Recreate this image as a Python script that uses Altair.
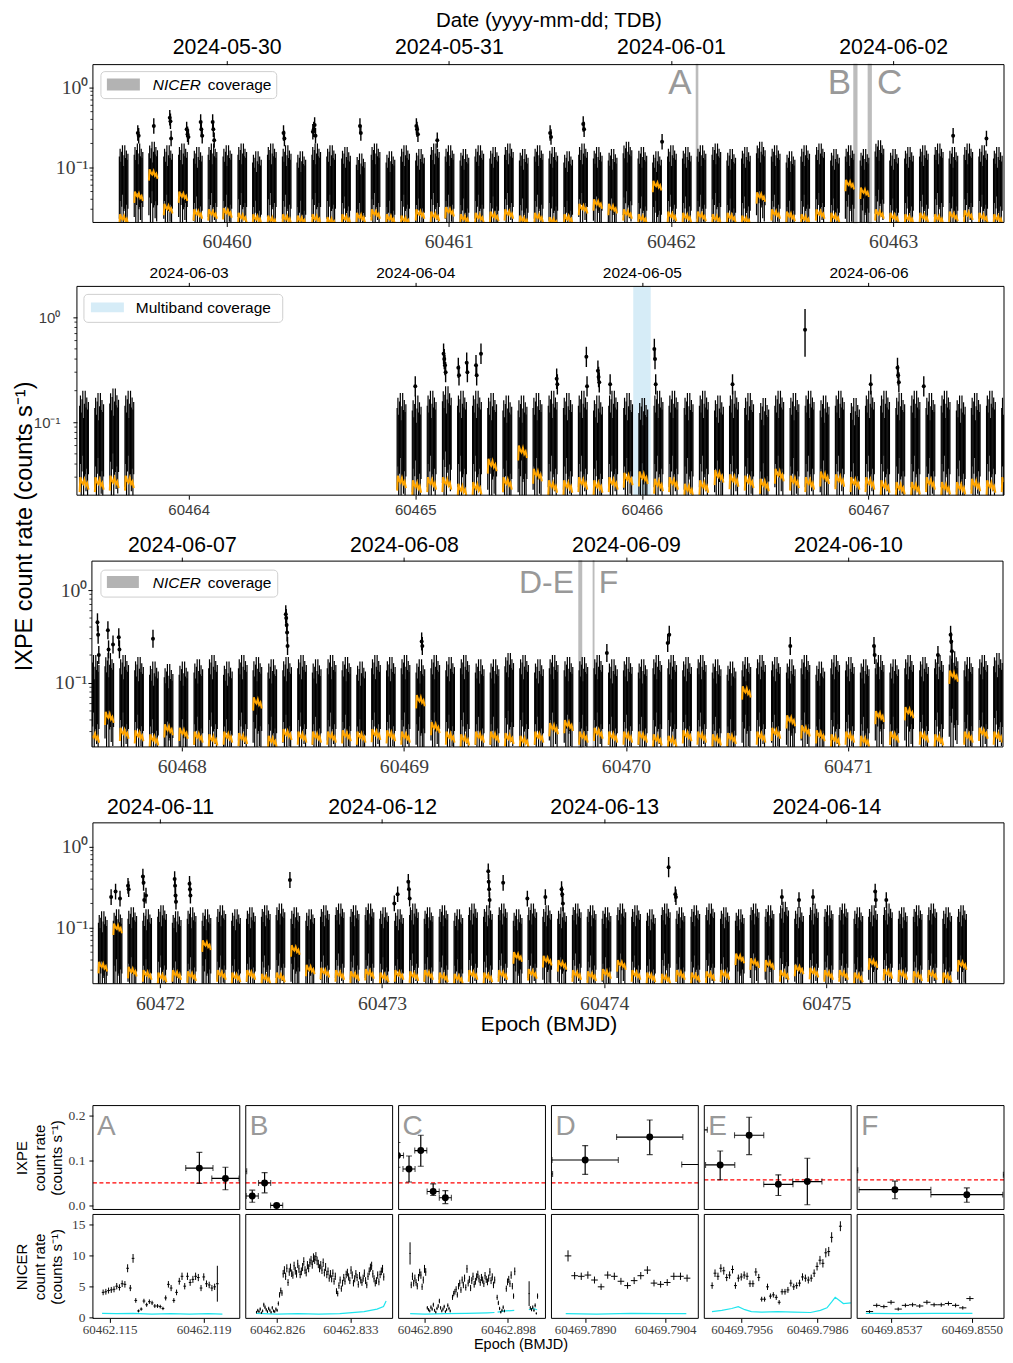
import altair as alt
import pandas as pd

alt.data_transformers.disable_max_rows()

SANS = "Liberation Sans"
SERIF = "Liberation Serif"
TICK_GREY = "#3c3c3c"
LETTER_GREY = "#999999"
ORANGE = "#ffa500"
CYAN = "#1fe5ee"
BAND_GREY = "#bcbcbc"
LEGEND_GREY = "#b3b3b3"
BLUE_BAND = "#d6ecf7"

# ---------------------------------------------------------------- long panels
Y_TICK_VALUES = [0.1, 1.0]
Y_TICK_LABELS = ["10\u207b\u00b9", "10\u2070"]
Y_MINOR = [0.03, 0.04, 0.05, 0.06, 0.07, 0.08, 0.09, 0.2, 0.3, 0.4, 0.5, 0.6, 0.7, 0.8, 0.9]
BIG_YTITLE = "IXPE count rate (counts s\u207b\u00b9)"
DATE_TITLE = "Date (yyyy-mm-dd; TDB)"
EPOCH_TITLE = "Epoch (BMJD)"
LEGEND_NICER = ["NICER", "coverage"]
LEGEND_MULTI = "Multiband coverage"

P1_XTICKS = [60460, 60461, 60462, 60463]
P1_DATES = ["2024-05-30", "2024-05-31", "2024-06-01", "2024-06-02"]
P2_XTICKS = [60464, 60465, 60466, 60467]
P2_DATES = ["2024-06-03", "2024-06-04", "2024-06-05", "2024-06-06"]
P3_XTICKS = [60468, 60469, 60470, 60471]
P3_DATES = ["2024-06-07", "2024-06-08", "2024-06-09", "2024-06-10"]
P4_XTICKS = [60472, 60473, 60474, 60475]
P4_DATES = ["2024-06-11", "2024-06-12", "2024-06-13", "2024-06-14"]

# IXPE orbit-segment starts (BMJD), read from the clusters
P1_ORBITS = [60459.517, 60459.584, 60459.650, 60459.717, 60459.784, 60459.851, 60459.917, 60459.984,
             60460.051, 60460.117, 60460.184, 60460.251, 60460.317, 60460.384, 60460.451, 60460.518,
             60460.584, 60460.651, 60460.718, 60460.784, 60460.851, 60460.918, 60460.984, 60461.051,
             60461.118, 60461.185, 60461.251, 60461.318, 60461.385, 60461.451, 60461.518, 60461.585,
             60461.651, 60461.718, 60461.785, 60461.852, 60461.918, 60461.985, 60462.052, 60462.118,
             60462.185, 60462.252, 60462.318, 60462.385, 60462.452, 60462.519, 60462.585, 60462.652,
             60462.719, 60462.785, 60462.852, 60462.919, 60462.985, 60463.052, 60463.119, 60463.186,
             60463.252, 60463.319, 60463.386, 60463.452]
P1_PEAKS = [0.19, 0.2, 0.21, 0.19, 0.2, 0.18, 0.2, 0.19, 0.2, 0.16, 0.2, 0.19, 0.16, 0.2, 0.19, 0.18,
            0.15, 0.2, 0.16, 0.19, 0.17, 0.2, 0.19, 0.17, 0.19, 0.18, 0.2, 0.17, 0.19, 0.18, 0.16, 0.2,
            0.18, 0.17, 0.21, 0.18, 0.16, 0.19, 0.18, 0.19, 0.2, 0.17, 0.18, 0.21, 0.19, 0.16, 0.19, 0.2,
            0.17, 0.19, 0.17, 0.22, 0.17, 0.18, 0.19, 0.2, 0.18, 0.2, 0.19, 0.18]
P1_BKG = [0.026, 0.05, 0.095, 0.035, 0.05, 0.03, 0.03, 0.031, 0.027, 0.026, 0.025, 0.026, 0.025, 0.026,
          0.024, 0.026, 0.027, 0.03, 0.026, 0.025, 0.03, 0.028, 0.032, 0.026, 0.027, 0.028, 0.03, 0.025,
          0.027, 0.024, 0.026, 0.035, 0.04, 0.035, 0.03, 0.026, 0.068, 0.028, 0.027, 0.028, 0.026, 0.027,
          0.025, 0.049, 0.03, 0.028, 0.026, 0.03, 0.027, 0.07, 0.056, 0.03, 0.027, 0.026, 0.027, 0.026,
          0.028, 0.029, 0.027, 0.026]
P1_FLARE_T = [60459.600, 60459.604, 60459.672, 60459.744, 60459.747, 60459.750, 60459.820, 60459.824,
              60459.828, 60459.883, 60459.886, 60459.890, 60459.937, 60459.940, 60459.944, 60460.256,
              60460.260, 60460.388, 60460.392, 60460.396, 60460.400, 60460.600, 60460.604, 60460.854,
              60460.857, 60460.861, 60460.948, 60461.456, 60461.460, 60461.605, 60461.609, 60461.960,
              60463.270, 60463.420]
P1_FLARE_R = [0.27, 0.25, 0.33, 0.42, 0.38, 0.23, 0.30, 0.26, 0.24, 0.37, 0.30, 0.25, 0.37, 0.30, 0.22,
              0.27, 0.23, 0.28, 0.30, 0.34, 0.25, 0.33, 0.27, 0.33, 0.30, 0.26, 0.22, 0.27, 0.24, 0.35,
              0.30, 0.21, 0.25, 0.23]

P2_ORBITS = [60463.519, 60463.586, 60463.652, 60463.719,
             60464.920, 60464.987, 60465.053, 60465.120, 60465.187, 60465.253, 60465.320, 60465.387,
             60465.454, 60465.520, 60465.587, 60465.654, 60465.720, 60465.787, 60465.854, 60465.920,
             60465.987, 60466.054, 60466.120, 60466.187, 60466.254, 60466.321, 60466.387, 60466.454,
             60466.521, 60466.587, 60466.654, 60466.721, 60466.787, 60466.854, 60466.921, 60466.987,
             60467.054, 60467.121, 60467.188, 60467.254, 60467.321, 60467.388, 60467.454, 60467.521,
             60467.588]
P2_PEAKS = [0.2, 0.19, 0.21, 0.2, 0.19, 0.18, 0.2, 0.22, 0.2, 0.2, 0.19, 0.18, 0.18, 0.19, 0.2, 0.19,
            0.2, 0.18, 0.2, 0.19, 0.17, 0.2, 0.2, 0.19, 0.2, 0.18, 0.2, 0.19, 0.17, 0.2, 0.19, 0.2,
            0.18, 0.2, 0.17, 0.2, 0.2, 0.19, 0.2, 0.19, 0.2, 0.18, 0.19, 0.2, 0.19]
P2_BKG = [0.03, 0.03, 0.031, 0.031, 0.031, 0.028, 0.03, 0.03, 0.026, 0.027, 0.045, 0.03, 0.06, 0.036,
          0.028, 0.028, 0.03, 0.028, 0.03, 0.033, 0.034, 0.029, 0.03, 0.026, 0.028, 0.035, 0.032, 0.031,
          0.029, 0.036, 0.031, 0.03, 0.034, 0.032, 0.03, 0.03, 0.028, 0.027, 0.027, 0.03, 0.027, 0.027,
          0.029, 0.028, 0.03]
P2_FLARE_T = [60465.000, 60465.125, 60465.128, 60465.131, 60465.134, 60465.190, 60465.193, 60465.227,
              60465.230, 60465.268, 60465.271, 60465.290, 60465.624, 60465.627, 60465.755, 60465.758,
              60465.806, 60465.809, 60465.812, 60465.860, 60466.055, 60466.058, 60466.061, 60466.400,
              60467.010, 60467.128, 60467.131, 60467.134, 60467.244]
P2_FLARE_R = [0.22, 0.45, 0.40, 0.35, 0.30, 0.33, 0.28, 0.37, 0.30, 0.35, 0.28, 0.45, 0.26, 0.23, 0.42,
              0.22, 0.31, 0.27, 0.24, 0.23, 0.50, 0.40, 0.23, 0.23, 0.23, 0.33, 0.28, 0.24, 0.22]
P2_ISO = [(60466.720, 0.76, 0.42, 1.20)]
P2_MULTIBAND = [(60465.962, 60466.039)]

P3_ORBITS = [60467.588, 60467.654, 60467.721, 60467.788, 60467.855, 60467.921, 60467.988, 60468.055,
             60468.121, 60468.188, 60468.255, 60468.321, 60468.388, 60468.455, 60468.522, 60468.588,
             60468.655, 60468.722, 60468.788, 60468.855, 60468.922, 60468.988, 60469.055, 60469.122,
             60469.189, 60469.255, 60469.322, 60469.389, 60469.455, 60469.522, 60469.589, 60469.655,
             60469.722, 60469.789, 60469.856, 60469.922, 60469.989, 60470.056, 60470.122, 60470.189,
             60470.256, 60470.322, 60470.389, 60470.456, 60470.523, 60470.589, 60470.656, 60470.723,
             60470.789, 60470.856, 60470.923, 60470.989, 60471.056, 60471.123, 60471.189, 60471.256,
             60471.323, 60471.390, 60471.456, 60471.523, 60471.590, 60471.656]
P3_PEAKS = [0.2, 0.21, 0.2, 0.19, 0.17, 0.16, 0.17, 0.18, 0.2, 0.17, 0.2, 0.19, 0.18, 0.19, 0.2, 0.18,
            0.2, 0.19, 0.17, 0.2, 0.19, 0.2, 0.18, 0.2, 0.19, 0.2, 0.18, 0.18, 0.21, 0.2, 0.18, 0.2,
            0.19, 0.19, 0.2, 0.18, 0.19, 0.18, 0.2, 0.2, 0.19, 0.2, 0.18, 0.17, 0.19, 0.2, 0.19, 0.18,
            0.2, 0.17, 0.2, 0.19, 0.18, 0.2, 0.18, 0.2, 0.19, 0.2, 0.22, 0.19, 0.2, 0.21]
P3_BKG = [0.03, 0.049, 0.033, 0.031, 0.028, 0.036, 0.033, 0.03, 0.028, 0.03, 0.029, 0.07, 0.027, 0.032,
          0.03, 0.03, 0.03, 0.031, 0.03, 0.032, 0.031, 0.03, 0.074, 0.038, 0.03, 0.028, 0.03, 0.03,
          0.029, 0.027, 0.03, 0.037, 0.04, 0.03, 0.033, 0.03, 0.03, 0.03, 0.028, 0.027, 0.031, 0.03,
          0.028, 0.029, 0.092, 0.03, 0.033, 0.045, 0.035, 0.031, 0.028, 0.03, 0.027, 0.05, 0.03, 0.055,
          0.03, 0.028, 0.136, 0.03, 0.033, 0.03]
P3_FLARE_T = [60467.620, 60467.623, 60467.626, 60467.667, 60467.670, 60467.690, 60467.716, 60467.719,
              60467.870, 60468.468, 60468.470, 60468.472, 60468.474, 60468.476, 60469.080, 60469.083,
              60469.914, 60470.188, 60470.195, 60470.740, 60471.117, 60471.120, 60471.405, 60471.462,
              60471.465, 60471.468]
P3_FLARE_R = [0.45, 0.33, 0.20, 0.37, 0.23, 0.26, 0.31, 0.23, 0.30, 0.55, 0.50, 0.42, 0.35, 0.25, 0.28,
              0.25, 0.21, 0.27, 0.33, 0.25, 0.25, 0.20, 0.20, 0.33, 0.28, 0.22]

P4_ORBITS = [60471.723, 60471.790, 60471.856, 60471.923, 60471.990, 60472.056, 60472.123, 60472.190,
             60472.257, 60472.323, 60472.390, 60472.457, 60472.523, 60472.590, 60472.657, 60472.723,
             60472.790, 60472.857, 60472.924, 60472.990, 60473.057, 60473.124, 60473.190, 60473.257,
             60473.324, 60473.390, 60473.457, 60473.524, 60473.591, 60473.657, 60473.724, 60473.791,
             60473.857, 60473.924, 60473.991, 60474.058, 60474.124, 60474.191, 60474.258, 60474.324,
             60474.391, 60474.458, 60474.524, 60474.591, 60474.658, 60474.725, 60474.791, 60474.858,
             60474.925, 60474.991, 60475.058, 60475.125, 60475.191, 60475.258, 60475.325, 60475.392,
             60475.458, 60475.525, 60475.592]
P4_PEAKS = [0.16, 0.17, 0.18, 0.17, 0.19, 0.16, 0.18, 0.17, 0.19, 0.17, 0.18, 0.19, 0.2, 0.18, 0.17,
            0.19, 0.2, 0.19, 0.2, 0.18, 0.17, 0.2, 0.18, 0.19, 0.17, 0.2, 0.19, 0.2, 0.17, 0.2, 0.19,
            0.18, 0.2, 0.19, 0.18, 0.2, 0.19, 0.17, 0.2, 0.18, 0.19, 0.2, 0.18, 0.17, 0.2, 0.19, 0.21,
            0.18, 0.2, 0.19, 0.2, 0.18, 0.19, 0.2, 0.18, 0.19, 0.2, 0.18, 0.19]
P4_BKG = [0.038, 0.113, 0.033, 0.03, 0.028, 0.03, 0.029, 0.07, 0.03, 0.028, 0.03, 0.027, 0.028, 0.061,
          0.035, 0.032, 0.03, 0.029, 0.031, 0.028, 0.03, 0.029, 0.03, 0.028, 0.027, 0.03, 0.028, 0.03,
          0.05, 0.031, 0.045, 0.04, 0.03, 0.029, 0.031, 0.04, 0.03, 0.028, 0.027, 0.03, 0.028, 0.029,
          0.03, 0.048, 0.042, 0.04, 0.03, 0.035, 0.032, 0.03, 0.03, 0.028, 0.042, 0.031, 0.03, 0.029,
          0.03, 0.028, 0.04]
P4_FLARE_T = [60471.780, 60471.800, 60471.820, 60471.856, 60471.859, 60471.923, 60471.926, 60471.929,
              60471.937, 60472.066, 60472.068, 60472.070, 60472.072, 60472.133, 60472.135, 60472.137,
              60473.055, 60473.070, 60473.118, 60473.121, 60473.124, 60473.478, 60473.480, 60473.482,
              60473.484, 60473.545, 60473.654, 60473.735, 60473.808, 60473.811, 60473.814, 60474.320,
              60474.323, 60474.800, 60474.877, 60474.940, 60475.220, 60475.223, 60475.270]
P4_FLARE_R = [0.24, 0.28, 0.23, 0.33, 0.30, 0.43, 0.36, 0.22, 0.25, 0.40, 0.33, 0.25, 0.21, 0.35, 0.30,
              0.25, 0.20, 0.26, 0.37, 0.30, 0.23, 0.50, 0.37, 0.30, 0.22, 0.36, 0.23, 0.24, 0.30, 0.26,
              0.20, 0.26, 0.24, 0.24, 0.22, 0.24, 0.28, 0.22, 0.22]
P4_ISO = [(60472.585, 0.39, 0.31, 0.49), (60474.290, 0.56, 0.42, 0.75)]

# shape of the binned IXPE rate inside one orbit segment (day offsets, fraction of orbit peak)
BIN_OFFSETS = [0.0, 0.0035, 0.007, 0.0105, 0.014, 0.0175, 0.021, 0.0245, 0.028, 0.0315, 0.035, 0.0385]
BIN_CENTER = [0.42, 0.55, 0.35, 0.5, 0.62, 0.3, 0.45, 0.58, 0.4, 0.52, 0.38, 0.47]
BIN_ERR = [0.3, 0.35, 0.27, 0.33, 0.38, 0.25, 0.3, 0.42, 0.29, 0.34, 0.28, 0.31]
BKG_OFFSETS = [0.0, 0.003, 0.009, 0.015, 0.021, 0.027, 0.033, 0.039]
BKG_SHAPE = [0.72, 1.0, 0.9, 0.86, 0.95, 0.83, 0.88, 0.76]
FLARE_LO, FLARE_HI = 0.8, 1.25

# NICER windows drawn on panels 1 and 3
P1_NICER = [(60462.1147, 60462.1197), (60462.8240, 60462.8362), (60462.8886, 60462.9008)]
P3_NICER = [(60469.7887, 60469.7907), (60469.7944, 60469.7998), (60469.8533, 60469.8550)]
P1_LETTERS = [("A", 60462.1147, "right", -5), ("B", 60462.8240, "right", -3), ("C", 60462.9008, "left", 6)]
P3_LETTERS = [("D-E", 60469.7887, "right", -5), ("F", 60469.8550, "left", 5)]

# ---------------------------------------------------------------- zoom panels A-F
NICER_BIN = 10.0 / 86400.0
IXPE_HALF = 0.00058
IXPE_YDOM = [-0.009, 0.222]
NICER_YDOM = [-0.2, 16.6]
IXPE_YTITLE = ["IXPE", "count rate", "(counts s\u207b\u00b9)"]
NICER_YTITLE = ["NICER", "count rate", "(counts s\u207b\u00b9)"]

A_IX = [(60462.11882, 0.083, 0.049, 0.118), (60462.11993, 0.060, 0.035, 0.085)]
B_IX = [(60462.82252, 0.076, 0.050, 0.100), (60462.82363, 0.021, 0.007, 0.034),
        (60462.82481, 0.050, 0.028, 0.073), (60462.82596, 0.000, -0.003, 0.003)]
C_IX = [(60462.88738, 0.111, 0.085, 0.140), (60462.88849, 0.081, 0.052, 0.110),
        (60462.88962, 0.122, 0.087, 0.156), (60462.89081, 0.031, 0.022, 0.048),
        (60462.89198, 0.017, 0.004, 0.033)]
D_IX = [(60469.78785, 0.070, 0.045, 0.095), (60469.78900, 0.101, 0.069, 0.133),
        (60469.79013, 0.152, 0.113, 0.190), (60469.79127, 0.091, 0.060, 0.120)]
E_IX = [(60469.79366, 0.168, 0.130, 0.210), (60469.79475, 0.090, 0.057, 0.121),
        (60469.79590, 0.156, 0.113, 0.196), (60469.79706, 0.047, 0.022, 0.068),
        (60469.79821, 0.053, 0.0015, 0.105)]
F_IX = [(60469.85258, 0.078, 0.050, 0.100), (60469.85376, 0.035, 0.015, 0.054),
        (60469.85492, 0.024, 0.007, 0.039), (60469.85609, 0.068, 0.045, 0.090)]
RED_LEVEL = [0.05, 0.05, 0.05, 0.05, 0.057, 0.057]

A_NICER = [(60462.114725, [4.0, 4.1, 4.3, 4.4, 4.5, 5.0, 4.8, 5.4, 5.3, 7.9, 4.7, 9.5, 2.7, 1.0, 1.3, 2.6,
                          2.0, 2.5, 2.3, 1.8, 1.8, 1.7, 1.4, 3.1, 5.3, 4.7, 2.7, 4.0, 5.8, 6.6, 5.0, 6.6,
                          5.6, 6.1, 6.6, 6.4, 4.7, 6.5, 5.4, 5.2, 4.7, 4.9, 5.4])]
B_NICER = [(60462.82404, [0.8, 1.1, 0.9, 1.3, 0.7, 1.0, 2.0, 1.6, 1.2, 0.9, 1.4, 1.1, 0.8, 1.5, 1.0, 0.9,
                         1.3, 1.1, 2.2, 3.6, 4.3, 3.9, 7.0, 7.6, 6.6, 7.9, 5.6, 7.3, 8.0, 7.1, 6.8, 8.3,
                         7.5, 7.0, 8.6, 7.8, 6.9, 7.4, 8.1, 9.0, 7.6, 7.2, 8.4, 7.9, 8.8, 9.2, 8.5, 9.6,
                         9.3, 9.8, 9.1, 8.6, 7.9, 8.4, 7.6, 8.8, 7.2, 8.1, 6.9, 7.4, 6.3, 7.0, 6.2, 7.1,
                         5.8, 6.6, 4.2, 3.8, 5.1, 6.0, 4.6, 5.5, 6.4, 5.8, 6.9, 7.2, 6.5, 5.9, 7.6, 6.8,
                         5.5, 6.2, 7.0, 6.4, 5.3, 6.7, 6.0, 5.6, 6.3, 7.1, 5.9, 5.2, 6.6, 7.4, 8.0, 8.3,
                         7.0, 6.2, 5.5, 5.9, 6.8, 5.7, 6.9, 7.4, 7.8, 6.5])]
C_NICER = [(60462.88859, [10.3, 5.2, 6.6, 5.5, 6.3, 5.6, 5.0, 6.4, 7.2, 6.8, 4.9, 6.0, 7.8, 7.3]),
           (60462.89025, [1.5, 1.2, 1.0, 1.6, 1.3, 2.0, 1.1, 0.8, 1.4, 1.8, 2.6, 1.5, 1.0, 1.3, 1.7, 0.9,
                          1.2, 1.9, 1.4, 1.0]),
           (60462.89267, [3.2, 3.8, 4.1, 4.5, 3.6, 5.0, 5.5, 4.4, 6.0, 5.2, 6.3, 4.8, 7.8, 5.5, 6.1, 4.7,
                          5.9, 6.6, 5.3, 5.8, 6.5, 6.9, 6.2, 5.6, 6.4, 6.0, 5.4, 6.7, 6.1, 5.7, 6.3, 7.3,
                          5.9, 6.5, 5.2, 6.0]),
           (60462.89696, [3.2, 2.3, 1.4, 0.8, 1.1, 1.6, 1.0]),
           (60462.89784, [4.6, 5.7, 6.1, 5.4, 6.8, 5.0, 3.4, 7.4]),
           (60462.90003, [3.8, 1.5, 1.2, 1.6, 1.1, 1.9, 0.6, 3.4])]
D_NICER = [(60469.78870, [9.9, 6.7, 6.6, 6.8, 6.0, 4.9, 6.8, 6.6, 5.8, 5.1, 5.9, 6.7, 7.6, 5.5, 5.3, 5.6,
                         6.6, 6.6, 6.3])]
E_NICER = [(60469.79443, [5.1, 7.1, 6.6, 7.9, 7.5, 6.4, 6.8, 7.7, 5.1, 6.3, 6.5, 6.8, 6.6, 5.4, 5.4, 7.3,
                         6.4, 2.9, 2.9, 4.9, 3.4, 3.6, 3.2, 2.4, 4.1, 4.1, 4.4, 5.5, 4.9, 5.1, 5.5, 6.5,
                         6.3, 6.0, 6.3, 7.1, 8.2, 9.2, 8.7, 10.4, 10.6, 12.9, None, None, 14.7])]
F_NICER = [(60469.85335, [0.9, 1.9, 1.7, 2.4, 1.3, 1.9, 2.0, 1.8, 2.4, 2.0, 2.0, 2.2, 1.9, 1.5, 3.0])]
# (segment index, bin index) -> larger error bar
NICER_BIG_ERR = {"A": {(0, 42): 2.9}, "C": {(0, 0): 1.8, (5, 0): 2.0}, "D": {(0, 0): 0.9},
                 "E": {(0, 44): 0.8}}

A_CYAN = [([60462.11468, 60462.11530, 60462.11600, 60462.11680, 60462.11760, 60462.11840, 60462.11920,
            60462.11980], [0.6, 0.55, 0.6, 0.5, 0.55, 0.5, 0.55, 0.5])]
B_CYAN = [([60462.82400, 60462.82600, 60462.82800, 60462.83000, 60462.83200, 60462.83431, 60462.83555,
            60462.83617, 60462.83642], [0.6, 0.5, 0.55, 0.5, 0.55, 0.9, 1.3, 1.7, 2.6])]
C_CYAN = [([60462.8886, 60462.8900, 60462.8920, 60462.8940, 60462.8960, 60462.8967],
           [0.55, 0.5, 0.55, 0.6, 0.7, 0.75]),
          ([60462.8970, 60462.8978, 60462.8986], [0.8, 1.0, 1.1]),
          ([60462.9000, 60462.9004, 60462.9008], [1.2, 1.4, 1.2])]
D_CYAN = [([60469.78866, 60469.78920, 60469.78980, 60469.79040, 60469.79077], [0.55, 0.5, 0.6, 0.55, 0.55])]
E_CYAN = [([60469.794425, 60469.794816, 60469.795208, 60469.795468, 60469.795729, 60469.795990,
            60469.796381, 60469.797033, 60469.797686, 60469.798338, 60469.798729, 60469.798990,
            60469.799186, 60469.799316, 60469.799446, 60469.799642, 60469.799940],
           [0.9, 1.1, 1.4, 1.7, 1.2, 0.9, 0.8, 0.9, 0.8, 0.75, 1.1, 1.5, 2.5, 3.2, 2.8, 2.2, 2.3])]
F_CYAN = [([60469.85329, 60469.85380, 60469.85440, 60469.85501], [0.6, 0.55, 0.6, 0.6])]

SMALL = [
    dict(key="A", xdom=[60462.11429, 60462.12054], ticks=[60462.115, 60462.119], fmt=".3f",
         ix=A_IX, nicer=A_NICER, cyan=A_CYAN),
    dict(key="B", xdom=[60462.82301, 60462.83704], ticks=[60462.826, 60462.833], fmt=".3f",
         ix=B_IX, nicer=B_NICER, cyan=B_CYAN),
    dict(key="C", xdom=[60462.88749, 60462.90160], ticks=[60462.890, 60462.898], fmt=".3f",
         ix=C_IX, nicer=C_NICER, cyan=C_CYAN),
    dict(key="D", xdom=[60469.78841, 60469.79098], ticks=[60469.7890, 60469.7904], fmt=".4f",
         ix=D_IX, nicer=D_NICER, cyan=D_CYAN),
    dict(key="E", xdom=[60469.79412, 60469.79995], ticks=[60469.7956, 60469.7986], fmt=".4f",
         ix=E_IX, nicer=E_NICER, cyan=E_CYAN),
    dict(key="F", xdom=[60469.85315, 60469.85552], ticks=[60469.8537, 60469.8550], fmt=".4f",
         ix=F_IX, nicer=F_NICER, cyan=F_CYAN),
]

# pixel layout (the whole figure must fit a 1013 px wide page with 8 px margins)
SMALL_W = 147
SMALL_H = 104
SMALL_GAP = 6
LONG_W = 912
P2_W = 928


# ---------------------------------------------------------------- helpers
def one():
    return pd.DataFrame({"k": [0]})


def date_expr(values, labels):
    expr = "''"
    for v, lab in reversed(list(zip(values, labels))):
        expr = f"datum.value == {v} ? '{lab}' : ({expr})"
    return expr


def spacer(w, h):
    return alt.Chart(one()).mark_point(opacity=0, size=1).encode(
        x=alt.value(w / 2.0), y=alt.value(h / 2.0)).properties(width=w, height=h)


def frame(w, h):
    return alt.Chart(one()).mark_rect(filled=False, stroke="black", strokeWidth=1).encode(
        x=alt.value(0), x2=alt.value(w), y=alt.value(0), y2=alt.value(h))


def legend_layers(box, patch, patch_color, texts):
    layers = [
        alt.Chart(one()).mark_rect(fill="white", fillOpacity=0.85, stroke="#cfcfcf", strokeWidth=1,
                                   cornerRadius=4).encode(
            x=alt.value(box[0]), x2=alt.value(box[2]), y=alt.value(box[1]), y2=alt.value(box[3])),
        alt.Chart(one()).mark_rect(fill=patch_color).encode(
            x=alt.value(patch[0]), x2=alt.value(patch[2]), y=alt.value(patch[1]), y2=alt.value(patch[3])),
    ]
    for txt, x, y, style in texts:
        layers.append(alt.Chart(one()).mark_text(
            text=txt, font=SANS, fontSize=15.5, fontStyle=style, align="left", baseline="middle",
            color="black").encode(x=alt.value(x), y=alt.value(y)))
    return layers


def inside(df, col, dom):
    return df[(df[col] >= dom[0]) & (df[col] <= dom[1])]


def long_panel(cfg):
    W, H = cfg["w"], cfg["h"]
    dom = cfg["xdom"]
    xs = alt.Scale(domain=dom, nice=False, zero=False)
    ys = alt.Scale(type="log", domain=cfg["ydom"], nice=False)
    tick_font = SANS if cfg["sans"] else SERIF
    yax = alt.Axis(
        values=Y_TICK_VALUES,
        labelExpr=f"datum.value >= 1 ? '{Y_TICK_LABELS[1]}' : '{Y_TICK_LABELS[0]}'",
        labelFont=tick_font, labelFontSize=cfg["tick_size"], labelColor=TICK_GREY,
        labelPadding=cfg["ylab_pad"], tickSize=4, tickColor="black", tickWidth=1,
        domain=False, grid=False, title=None)
    xbot = alt.Axis(
        orient="bottom", values=cfg["xticks"], format="d", labelFont=tick_font,
        labelFontSize=cfg["tick_size"], labelColor=TICK_GREY, labelPadding=cfg["xlab_pad"],
        tickSize=4, tickColor="black", domain=False, grid=False, labelFlush=False,
        labelOverlap=False, title=cfg.get("xtitle"), titleFont=SANS, titleFontSize=21,
        titleFontWeight="normal", titleColor="black", titleBaseline="alphabetic", titleY=46.5)
    xtop = alt.Axis(
        orient="top", values=cfg["xticks"], labelExpr=date_expr(cfg["xticks"], cfg["dates"]),
        labelFont=SANS, labelFontSize=cfg["date_size"], labelColor="black",
        labelPadding=cfg["date_pad"], tickSize=4, tickColor="black", domain=False, grid=False,
        labelFlush=False, labelOverlap=False, title=cfg.get("top_title"), titleFont=SANS,
        titleFontSize=20.5, titleFontWeight="normal", titleColor="black",
        titleBaseline="alphabetic", titleY=-38)

    def X(field, axis=None):
        return alt.X(f"{field}:Q", scale=xs, axis=axis)

    def Y(field):
        return alt.Y(f"{field}:Q", scale=ys, axis=yax)

    layers = [alt.Chart(pd.DataFrame({"t": cfg["xticks"]})).mark_rule(opacity=0).encode(x=X("t", xtop))]

    if cfg.get("multiband"):
        mb = pd.DataFrame(cfg["multiband"], columns=["t0", "t1"])
        layers.append(alt.Chart(mb).mark_rect(fill=BLUE_BAND).encode(
            x=X("t0"), x2="t1:Q", y=alt.value(0), y2=alt.value(H)))
    if cfg.get("bands"):
        bd = pd.DataFrame(cfg["bands"], columns=["t0", "t1"])
        layers.append(alt.Chart(bd).mark_rect(fill=BAND_GREY, stroke=BAND_GREY, strokeWidth=1.5).encode(
            x=X("t0"), x2="t1:Q", y=alt.value(0), y2=alt.value(H)))

    bins = []
    for s, pk in zip(cfg["orbits"], cfg["peaks"]):
        for off, c, e in zip(BIN_OFFSETS, BIN_CENTER, BIN_ERR):
            bins.append({"t": s + off, "lo": pk * (c - e), "hi": pk * (c + e)})
    bins = inside(pd.DataFrame(bins), "t", dom)
    layers.append(alt.Chart(bins).mark_rule(color="black", strokeWidth=1.2, clip=True).encode(
        x=X("t", xbot), y=Y("lo"), y2="hi:Q"))

    fl = pd.DataFrame({"t": cfg["flare_t"], "r": cfg["flare_r"]})
    fl["lo"] = fl["r"] * FLARE_LO
    fl["hi"] = fl["r"] * FLARE_HI
    if cfg.get("iso"):
        fl = pd.concat([fl, pd.DataFrame(cfg["iso"], columns=["t", "r", "lo", "hi"])], ignore_index=True)
    fl = inside(fl, "t", dom)
    layers.append(alt.Chart(fl).mark_rule(color="black", strokeWidth=1.4, clip=True).encode(
        x=X("t"), y=Y("lo"), y2="hi:Q"))
    layers.append(alt.Chart(fl).mark_circle(color="black", size=16, opacity=1, clip=True).encode(
        x=X("t"), y=Y("r")))

    bk = []
    for i, (s, b) in enumerate(zip(cfg["orbits"], cfg["bkg"])):
        for off, f in zip(BKG_OFFSETS, BKG_SHAPE):
            bk.append({"t": s + off, "v": b * f, "orbit": i})
    bk = inside(pd.DataFrame(bk), "t", dom)
    layers.append(alt.Chart(bk).mark_line(color=ORANGE, strokeWidth=2, clip=True).encode(
        x=X("t"), y=Y("v"), detail="orbit:N"))

    for lab, t, align, dx in cfg.get("letters", []):
        layers.append(alt.Chart(pd.DataFrame({"t": [t], "lab": [lab]})).mark_text(
            font=SANS, fontSize=cfg["letter_size"], color=LETTER_GREY, align=align, dx=dx,
            baseline="alphabetic").encode(x=X("t"), y=alt.value(cfg["letter_y"]), text="lab:N"))

    if cfg.get("legend"):
        layers += cfg["legend"]

    mn = pd.DataFrame({"v": [v for v in Y_MINOR if cfg["ydom"][0] < v < cfg["ydom"][1]]})
    layers.append(alt.Chart(mn).mark_rule(color="black", strokeWidth=0.8).encode(
        y=Y("v"), x=alt.value(-2.5), x2=alt.value(0)))
    layers.append(frame(W, H))

    return alt.layer(*layers).resolve_scale(x="independent").properties(width=W, height=H)


YCOMMON = dict(labelFont=SERIF, labelFontSize=13.5, labelColor=TICK_GREY, labelPadding=4,
               tickSize=4, tickColor="black", domain=False, grid=False,
               titleFont=SANS, titleFontSize=15, titleFontWeight="normal", titleColor="black",
               titleAngle=270, titleAlign="center", titleBaseline="top", titleLineHeight=17.5,
               titleX=-78, titleY=SMALL_H / 2.0)


def ixpe_panel(i, c):
    dom = c["xdom"]
    xs = alt.Scale(domain=dom, nice=False, zero=False)
    ys = alt.Scale(domain=IXPE_YDOM, nice=False, zero=False)
    yax = alt.Axis(values=[0.0, 0.1, 0.2], format=".1f", title=IXPE_YTITLE, **YCOMMON) if i == 0 else None

    def X(field):
        return alt.X(f"{field}:Q", scale=xs, axis=None)

    def Y(field):
        return alt.Y(f"{field}:Q", scale=ys, axis=yax)

    ix = pd.DataFrame(c["ix"], columns=["t", "r", "lo", "hi"])
    ix["x0"] = ix["t"] - IXPE_HALF
    ix["x1"] = ix["t"] + IXPE_HALF
    ycap = pd.concat([ix[["t"]].assign(v=ix["lo"]), ix[["t"]].assign(v=ix["hi"])], ignore_index=True)
    xcap = pd.concat([pd.DataFrame({"x": ix["x0"], "r": ix["r"]}),
                      pd.DataFrame({"x": ix["x1"], "r": ix["r"]})], ignore_index=True)
    return alt.layer(
        alt.Chart(pd.DataFrame({"v": [RED_LEVEL[i]]})).mark_rule(
            color="#ff0000", strokeDash=[4, 2.5], strokeWidth=1.2).encode(y=Y("v")),
        alt.Chart(ix).mark_rule(color="black", strokeWidth=1.2, clip=True).encode(
            x=X("x0"), x2="x1:Q", y=Y("r")),
        alt.Chart(ix).mark_rule(color="black", strokeWidth=1.2, clip=True).encode(
            x=X("t"), y=Y("lo"), y2="hi:Q"),
        alt.Chart(ycap).mark_tick(orient="horizontal", size=6, thickness=1.1, color="black",
                                  clip=True).encode(x=X("t"), y=Y("v")),
        alt.Chart(xcap).mark_tick(orient="vertical", size=6, thickness=1.1, color="black",
                                  clip=True).encode(x=X("x"), y=Y("r")),
        alt.Chart(ix).mark_circle(color="black", size=48, opacity=1, clip=True).encode(
            x=X("t"), y=Y("r")),
        alt.Chart(one()).mark_text(text=c["key"], font=SANS, fontSize=28, color=LETTER_GREY,
                                   align="left", baseline="alphabetic").encode(
            x=alt.value(4), y=alt.value(29)),
        frame(SMALL_W, SMALL_H),
    ).properties(width=SMALL_W, height=SMALL_H)


def nicer_panel(i, c):
    dom = c["xdom"]
    xs = alt.Scale(domain=dom, nice=False, zero=False)
    ys = alt.Scale(domain=NICER_YDOM, nice=False, zero=False)
    yax = alt.Axis(values=[0, 5, 10, 15], format="d", title=NICER_YTITLE, **YCOMMON) if i == 0 else None
    xax = alt.Axis(orient="bottom", values=c["ticks"], format=c["fmt"], labelFont=SERIF,
                   labelFontSize=13, labelColor=TICK_GREY, labelPadding=1, tickSize=4,
                   tickColor="black", domain=False, grid=False, labelFlush=False, labelOverlap=False,
                   title=EPOCH_TITLE if c["key"] == "C" else None, titleFont=SANS,
                   titleFontSize=14.5, titleFontWeight="normal", titleColor="black",
                   titleBaseline="alphabetic", titleX=122, titleY=30)

    def X(field):
        return alt.X(f"{field}:Q", scale=xs, axis=xax)

    def Y(field):
        return alt.Y(f"{field}:Q", scale=ys, axis=yax)

    rows = []
    big = NICER_BIG_ERR.get(c["key"], {})
    for si, (start, vals) in enumerate(c["nicer"]):
        for bi, v in enumerate(vals):
            if v is None:
                continue
            t = start + bi * NICER_BIN
            e = big.get((si, bi), 0.23 * (v ** 0.5))
            rows.append({"t": t, "v": v, "lo": v - e, "hi": v + e,
                         "x0": t - NICER_BIN / 2, "x1": t + NICER_BIN / 2})
    nd = pd.DataFrame(rows)
    cy = []
    for si, (ts, vs) in enumerate(c["cyan"]):
        for t, v in zip(ts, vs):
            cy.append({"t": t, "v": v, "seg": si})
    cyd = pd.DataFrame(cy)
    return alt.layer(
        alt.Chart(cyd).mark_line(color=CYAN, strokeWidth=1.2, clip=True).encode(
            x=X("t"), y=Y("v"), detail="seg:N"),
        alt.Chart(nd).mark_rule(color="black", strokeWidth=1, clip=True).encode(
            x=X("x0"), x2="x1:Q", y=Y("v")),
        alt.Chart(nd).mark_rule(color="black", strokeWidth=1, clip=True).encode(
            x=X("t"), y=Y("lo"), y2="hi:Q"),
        frame(SMALL_W, SMALL_H),
    ).properties(width=SMALL_W, height=SMALL_H)


# ---------------------------------------------------------------- panels
P1 = long_panel(dict(
    w=LONG_W, h=158, xdom=[60459.398, 60463.499], ydom=[0.0205, 1.94], sans=False, tick_size=19.7,
    ylab_pad=1, xlab_pad=5.5, date_size=21.3, date_pad=3.5, xticks=P1_XTICKS, dates=P1_DATES,
    top_title=DATE_TITLE, orbits=P1_ORBITS, peaks=P1_PEAKS, bkg=P1_BKG, flare_t=P1_FLARE_T,
    flare_r=P1_FLARE_R, bands=P1_NICER, letters=P1_LETTERS, letter_size=35, letter_y=29,
    legend=legend_layers((8, 7, 184, 34), (14, 14, 47, 26), LEGEND_GREY,
                         [(LEGEND_NICER[0], 60, 20.5, "italic"), (LEGEND_NICER[1], 115, 20.5, "normal")])))

P2 = long_panel(dict(
    w=P2_W, h=209, xdom=[60463.507, 60467.598], ydom=[0.0202, 1.97], sans=True, tick_size=15,
    ylab_pad=13, xlab_pad=3, date_size=15.5, date_pad=2, xticks=P2_XTICKS, dates=P2_DATES,
    orbits=P2_ORBITS, peaks=P2_PEAKS, bkg=P2_BKG, flare_t=P2_FLARE_T,
    flare_r=P2_FLARE_R, iso=P2_ISO, multiband=P2_MULTIBAND,
    legend=legend_layers((7, 8, 206, 36), (14, 16, 47, 26), BLUE_BAND,
                         [(LEGEND_MULTI, 59, 21.5, "normal")])))

P3 = long_panel(dict(
    w=LONG_W, h=186, xdom=[60467.595, 60471.698], ydom=[0.0205, 2.05], sans=False, tick_size=19.7,
    ylab_pad=1, xlab_pad=5.5, date_size=21.3, date_pad=1.6, xticks=P3_XTICKS, dates=P3_DATES,
    orbits=P3_ORBITS, peaks=P3_PEAKS, bkg=P3_BKG, flare_t=P3_FLARE_T, flare_r=P3_FLARE_R,
    bands=P3_NICER, letters=P3_LETTERS, letter_size=32, letter_y=32,
    legend=legend_layers((9, 9, 186, 36), (15, 15, 47, 27), LEGEND_GREY,
                         [(LEGEND_NICER[0], 61, 21.5, "italic"), (LEGEND_NICER[1], 116, 21.5, "normal")])))

P4 = long_panel(dict(
    w=LONG_W, h=161, xdom=[60471.698, 60475.8], ydom=[0.0204, 1.98], sans=False, tick_size=19.7,
    ylab_pad=1, xlab_pad=5.5, date_size=21.3, date_pad=1.6, xticks=P4_XTICKS, dates=P4_DATES,
    xtitle=EPOCH_TITLE, orbits=P4_ORBITS, peaks=P4_PEAKS, bkg=P4_BKG, flare_t=P4_FLARE_T,
    flare_r=P4_FLARE_R, iso=P4_ISO))

ixpe_row = alt.hconcat(spacer(10, 1), *[ixpe_panel(i, c) for i, c in enumerate(SMALL)],
                       spacing=SMALL_GAP, bounds="flush")
nicer_row = alt.hconcat(spacer(10, 1), *[nicer_panel(i, c) for i, c in enumerate(SMALL)],
                        spacing=SMALL_GAP, bounds="flush")

chart = alt.vconcat(
    alt.hconcat(spacer(16, 1), P1, spacing=0, bounds="flush"),
    spacer(1, 13),
    P2,
    spacer(1, 17),
    alt.hconcat(spacer(15, 1), P3, spacing=0, bounds="flush"),
    spacer(1, 19),
    alt.hconcat(spacer(16, 1), P4, spacing=0, bounds="flush"),
    spacer(1, 70),
    ixpe_row,
    spacer(1, 1),
    nicer_row,
    spacing=0,
).properties(
    title=alt.TitleParams(text=BIG_YTITLE, orient="left", anchor="middle", font=SANS, fontSize=23.5,
                          fontWeight="normal", color="black", offset=0, dx=154.5, dy=22),
    padding={"left": 5, "top": 2, "right": 0, "bottom": 0},
    background="white",
).configure_view(stroke=None)

chart.save("out.html", embed_options={"renderer": "svg", "actions": False})
